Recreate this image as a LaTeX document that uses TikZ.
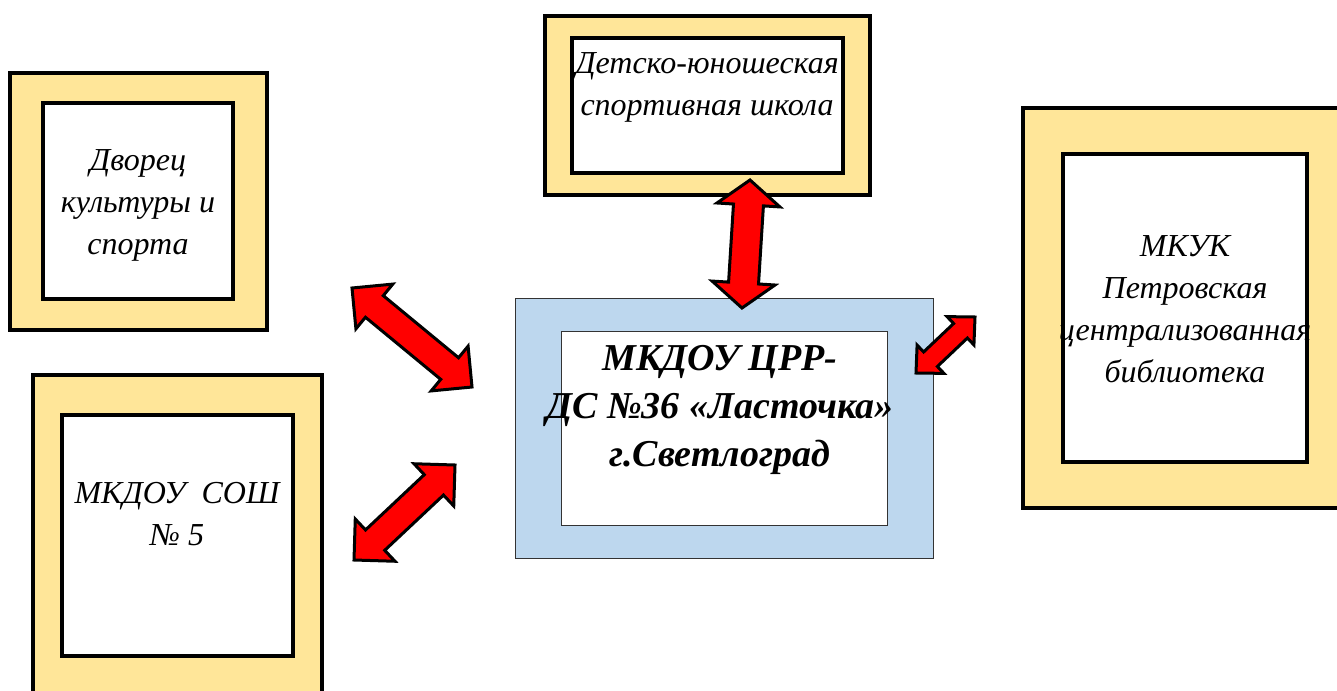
\documentclass[tikz,border=0pt]{standalone}
\usepackage{fontspec}
\setmainfont{Liberation Serif}
\usetikzlibrary{calc}
\usetikzlibrary{positioning}

\definecolor{frameyellow}{HTML}{FFE699}
\definecolor{frameblue}{HTML}{BDD7EE}

% double block arrow between two tips: tip, tip, head length, head half width, shaft half width
\newcommand{\twoway}[5]{%
	\draw[linkarrow] (#1)
		-- ($(#1)!#3!(#2)!#4!90:(#2)$)
		-- ($(#1)!#3!(#2)!#5!90:(#2)$)
		-- ($(#2)!#3!(#1)!#5!-90:(#1)$)
		-- ($(#2)!#3!(#1)!#4!-90:(#1)$)
		-- (#2)
		-- ($(#2)!#3!(#1)!#4!90:(#1)$)
		-- ($(#2)!#3!(#1)!#5!90:(#1)$)
		-- ($(#1)!#3!(#2)!#5!-90:(#2)$)
		-- ($(#1)!#3!(#2)!#4!-90:(#2)$)
		-- cycle;}

\begin{document}
\begin{tikzpicture}[x=0.5pt, y=-0.5pt,
	outer/.style={rectangle, draw=black, line width=2pt, fill=frameyellow, inner sep=0pt},
	inner/.style={rectangle, draw=black, line width=2pt, fill=white, inner sep=0pt},
	label text/.style={align=center, font=\fontsize{16}{21}\selectfont\itshape, inner sep=0pt},
	linkarrow/.style={draw=black, line width=1.5pt, fill=red, line join=miter}]
	\useasboundingbox (0,0) rectangle (1337,690);
	\clip (0,0) rectangle (1337,690);

	% frames
	\node[outer, minimum width=128.5pt, minimum height=128.5pt] (dk) at (138.5,201.5) {};
	\node[inner, minimum width=95pt, minimum height=98pt] (dk-in) at (138,201) {};
	\node[outer, minimum width=144.5pt, minimum height=172.5pt] (sosh) at (177.5,547.5) {};
	\node[inner, minimum width=115.5pt, minimum height=120.5pt] (sosh-in) at (177.5,535.5) {};
	\node[outer, minimum width=162.5pt, minimum height=89.5pt] (dush) at (707.5,105.5) {};
	\node[inner, minimum width=135.5pt, minimum height=67.5pt] (dush-in) at (707.5,105.5) {};
	\node[outer, minimum width=163.5pt, minimum height=200pt] (lib) at (1186.5,308) {};
	\node[inner, minimum width=122pt, minimum height=154pt] (lib-in) at (1185,308) {};

	\begin{scope}[every node/.style={rectangle, draw=black!80, line width=0.5pt, inner sep=0pt}]
		\node[fill=frameblue, minimum width=209pt, minimum height=130pt] (dou) at (724,428) {};
		\node[fill=white, minimum width=163pt, minimum height=97pt] (dou-in) at (724,428) {};
	\end{scope}

	% texts
	\node[label text] (dk-t) at (138,205) {Дворец\\культуры и\\спорта};
	\node[label text] (sosh-t) at (177,514) {МКДОУ\ \ СОШ\\№ 5};
	\node[label text] (dush-t) at (707,87) {Детско-юношеская\\спортивная школа};
	\node[label text] (lib-t) at (1185,309) {МКУК\\Петровская\\централизованная\\библиотека};
	\node[align=center, inner sep=0pt, font=\fontsize{19}{24}\selectfont\bfseries\itshape] (dou-t) at (720,410)
		{МКДОУ ЦРР-\\ДС №36 «Ласточка»\\г.Светлоград};

	% arrows
	\coordinate (a1) at (352,288);
	\coordinate (b1) at (472,387);
	\coordinate (a2) at (354,560);
	\coordinate (b2) at (455,465);
	\coordinate (a3) at (750,180);
	\coordinate (b3) at (742,308);
	\coordinate (a4) at (916,373);
	\coordinate (b4) at (975,317);

	\twoway{a1}{b1}{14.5pt}{14.5pt}{7pt}
	\twoway{a2}{b2}{14.5pt}{14.5pt}{7pt}
	\twoway{a3}{b3}{12.5pt}{15.75pt}{7.5pt}
	\twoway{a4}{b4}{10pt}{9.75pt}{5pt}
\end{tikzpicture}
\end{document}
